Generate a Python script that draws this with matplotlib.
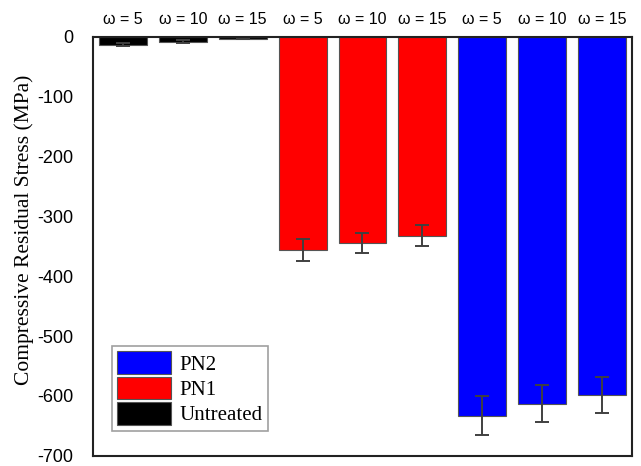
import matplotlib
matplotlib.use("Agg")
import matplotlib.pyplot as plt
import numpy as np

top_labels = ["ω = 5", "ω = 10", "ω = 15"] * 3
untreated = [-13, -8, -3]
untreated_err = [2, 2, 1]
pn1 = [-356, -345, -332]
pn1_err = [18, 17, 17]
pn2 = [-633, -613, -598]
pn2_err = [32, 31, 30]

fig = plt.figure(figsize=(6.41, 4.66), dpi=100)
ax = fig.add_axes([0.145, 0.022, 0.841, 0.899])

x = np.arange(9)
w = 0.8
ekw = dict(ecolor="#404040", elinewidth=1.4, capsize=5, capthick=1.4)
b2 = ax.bar(x[6:9], pn2, w, yerr=pn2_err, color="#0000ff", edgecolor="#555555", linewidth=0.8, error_kw=ekw, label="PN2")
b1 = ax.bar(x[3:6], pn1, w, yerr=pn1_err, color="#ff0000", edgecolor="#555555", linewidth=0.8, error_kw=ekw, label="PN1")
b0 = ax.bar(x[0:3], untreated, w, yerr=untreated_err, color="#000000", edgecolor="#555555", linewidth=0.8, error_kw=ekw, label="Untreated")

ax.set_xlim(-0.5, 8.5)
ax.set_ylim(-700, 0)
ax.set_yticks(np.arange(-700, 1, 100))
ax.set_yticklabels([str(v) for v in range(-700, 1, 100)], family="Liberation Sans", fontsize=13)
ax.tick_params(axis="y", length=0, pad=14)
ax.xaxis.tick_top()
ax.set_xticks(x)
ax.set_xticklabels(top_labels, family="Liberation Sans", fontsize=11.5)
ax.tick_params(axis="x", length=0, pad=7)
for s in ax.spines.values():
    s.set_linewidth(1.5)
    s.set_color("#222222")

ax.set_ylabel("Compressive Residual Stress (MPa)", family="Liberation Serif", fontsize=15.5)
ax.yaxis.set_label_coords(-0.11, 0.54)

leg = ax.legend(handles=[b2, b1, b0], loc="lower left", bbox_to_anchor=(0.035, 0.06),
                prop={"family": "Liberation Serif", "size": 15}, fancybox=False,
                edgecolor="#888888", handlelength=2.6, handleheight=1.3,
                handletextpad=0.4, labelspacing=0.1, borderpad=0.25, borderaxespad=0)
leg.get_frame().set_linewidth(1.2)

fig.savefig("out.png", dpi=100)
